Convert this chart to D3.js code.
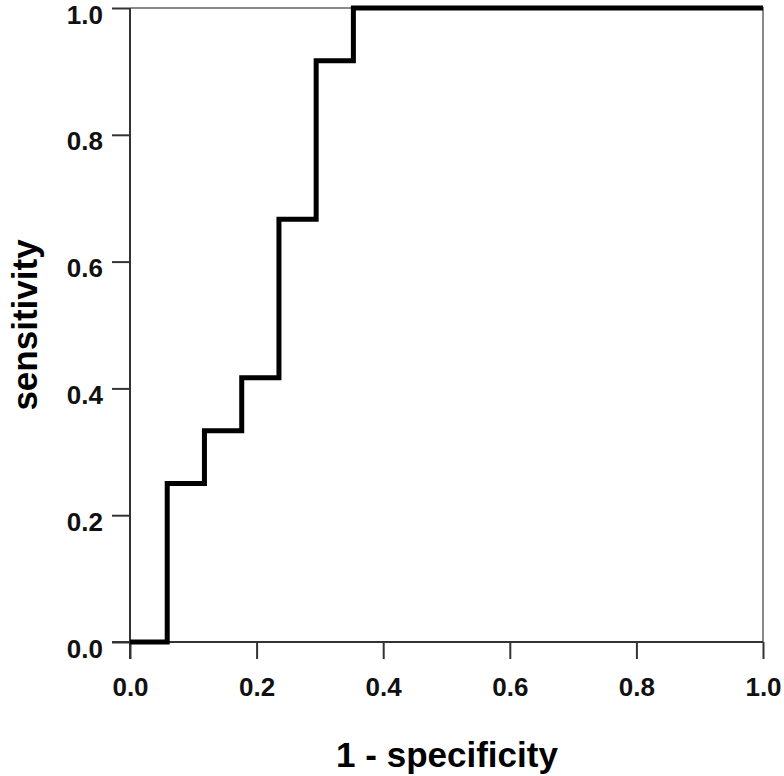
<!DOCTYPE html>
<html>
<head>
<meta charset="utf-8">
<script src="https://cdn.jsdelivr.net/npm/d3@7"></script>
<style>
  body { margin: 0; background: #fff; }
  text { font-family: "Liberation Sans", Arial, sans-serif; font-weight: bold; }
</style>
</head>
<body>
<svg id="chart" width="784" height="776"></svg>
<script>
// ROC curve points (1 - specificity, sensitivity)
let fpr = [0, 0.0588, 0.1176, 0.1765, 0.2353, 0.2941, 0.3529, 1.0];
let tpr = [0, 0.25, 0.3333, 0.4167, 0.6667, 0.9167, 1.0, 1.0];
let ticks = [0, 0.2, 0.4, 0.6, 0.8, 1.0];

let svg = d3.select('#chart');

let plotLeft = 130, plotRight = 763, plotTop = 8, plotBottom = 642;

let x = d3.scaleLinear().domain([0, 1]).range([plotLeft, plotRight]);
let y = d3.scaleLinear().domain([0, 1]).range([plotBottom, plotTop]);

// frame (top and right) in grey
svg.append('path')
    .attr('d', `M${x(0)},${y(1)}H${x(1)}V${y(0)}`)
    .attr('fill', 'none')
    .attr('stroke', '#8a8a8a')
    .attr('stroke-width', 2);

let xAxis = svg.append('g')
    .attr('transform', `translate(0,${plotBottom})`)
    .call(d3.axisBottom(x).tickValues(ticks).tickFormat(d3.format('.1f')).tickSize(17).tickPadding(19));

let yAxis = svg.append('g')
    .attr('transform', `translate(${plotLeft},0)`)
    .call(d3.axisLeft(y).tickValues(ticks).tickFormat(d3.format('.1f')).tickSize(18).tickPadding(9));

[xAxis, yAxis].forEach(g => {
    g.select('.domain').remove();
    g.selectAll('line').attr('stroke', '#333').attr('stroke-width', 2);
    g.selectAll('text')
        .attr('fill', '#111')
        .style('font-size', '26px')
        .style('font-family', '"Liberation Sans", Arial, sans-serif')
        .style('font-weight', 'bold');
});
xAxis.selectAll('text').attr('dy', '0.71em');
yAxis.selectAll('text').attr('dy', 15);

// axis lines
svg.append('line')
    .attr('x1', x(0)).attr('x2', x(0)).attr('y1', y(1)).attr('y2', plotBottom + 17)
    .attr('stroke', '#333').attr('stroke-width', 2);
svg.append('line')
    .attr('x1', plotLeft - 18).attr('x2', x(1)).attr('y1', y(0)).attr('y2', y(0))
    .attr('stroke', '#333').attr('stroke-width', 2);

let line = d3.line()
    .x((d, i) => x(fpr[i]))
    .y((d, i) => y(tpr[i]))
    .curve(d3.curveStepAfter);

svg.append('path')
    .datum(fpr)
    .attr('d', line)
    .attr('fill', 'none')
    .attr('stroke', '#000')
    .attr('stroke-width', 5)
    .attr('stroke-linejoin', 'miter');

svg.append('text')
    .attr('x', 447)
    .attr('y', 767)
    .attr('text-anchor', 'middle')
    .style('font-size', '35px')
    .text('1 - specificity');

svg.append('text')
    .attr('transform', `translate(37,325) rotate(-90)`)
    .attr('text-anchor', 'middle')
    .style('font-size', '35px')
    .text('sensitivity');
</script>
</body>
</html>
